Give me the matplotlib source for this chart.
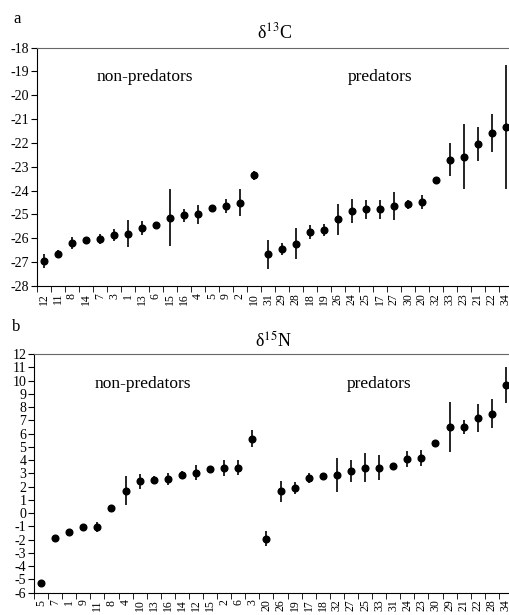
import matplotlib.pyplot as plt
import numpy as np

plt.rcParams['font.family'] = ['Liberation Serif', 'DejaVu Serif']
plt.rcParams['mathtext.fontset'] = 'stix'
plt.rcParams['axes.unicode_minus'] = False

# delta 13C
c_labels = ['12', '11', '8', '14', '7', '3', '1', '13', '6', '15', '16', '4', '5', '9', '2', '10',
            '31', '29', '28', '18', '19', '26', '24', '25', '17', '27', '30', '20', '32', '33', '23', '21', '22', '34']
c_mean = [-26.96, -26.64, -26.19, -26.08, -26.04, -25.87, -25.80, -25.56, -25.45, -25.14, -25.03, -25.00,
          -24.71, -24.65, -24.51, -23.36,
          -26.67, -26.44, -26.23, -25.73, -25.65, -25.20, -24.87, -24.78, -24.78, -24.64, -24.58, -24.48,
          -23.57, -22.70, -22.58, -22.05, -21.58, -21.32]
c_err = [0.30, 0.15, 0.25, 0.10, 0.20, 0.25, 0.55, 0.30, 0.10, 1.20, 0.28, 0.38, 0.05, 0.30, 0.57, 0.18,
         0.60, 0.25, 0.65, 0.30, 0.25, 0.65, 0.50, 0.40, 0.40, 0.60, 0.20, 0.30,
         0.15, 0.70, 1.37, 0.70, 0.80, 2.60]

# delta 15N
n_labels = ['5', '7', '1', '9', '11', '8', '4', '10', '13', '16', '14', '12', '15', '2', '6', '3',
            '20', '26', '19', '17', '18', '32', '27', '25', '33', '31', '24', '23', '30', '29', '21', '22', '28', '34']
n_mean = [-5.27, -1.87, -1.41, -1.06, -1.06, 0.38, 1.70, 2.40, 2.53, 2.60, 2.90, 3.05, 3.35, 3.43, 3.43, 5.62,
          -1.93, 1.64, 1.87, 2.65, 2.82, 2.88, 3.18, 3.43, 3.43, 3.55, 4.08, 4.16,
          5.29, 6.50, 6.50, 7.15, 7.50, 9.69]
n_err = [0.20, 0.15, 0.12, 0.05, 0.40, 0.25, 1.10, 0.57, 0.29, 0.45, 0.30, 0.55, 0.10, 0.60, 0.55, 0.63,
         0.57, 0.78, 0.45, 0.40, 0.10, 1.28, 0.85, 1.10, 0.95, 0.10, 0.60, 0.60,
         0.20, 1.90, 0.50, 1.05, 1.10, 1.36]

fig = plt.figure(figsize=(5.09, 6.15), dpi=100)


def panel(rect, labels, mean, err, ylim, title, pad, txt_y):
    ax = fig.add_axes(rect)
    x = np.arange(len(labels))
    ax.errorbar(x, mean, yerr=err, fmt='o', color='black', ms=4.8, elinewidth=1.2, capsize=0)
    ax.set_xlim(-0.5, len(labels) - 0.5)
    ax.set_ylim(ylim)
    ax.set_yticks(np.arange(ylim[0], ylim[1] + 1, 1))
    ax.set_xticks(x)
    ax.set_xticklabels(labels, rotation=90, fontsize=8.5)
    ax.set_xticks(np.arange(len(labels) + 1) - 0.5, minor=True)
    ax.tick_params(axis='x', which='major', length=0, pad=5)
    ax.tick_params(axis='x', which='minor', length=4, direction='out')
    ax.tick_params(axis='y', length=4, direction='out', labelsize=10, pad=1.5)
    ax.spines['right'].set_visible(False)
    ax.spines['top'].set_color('#666666')
    ax.set_title(title, fontsize=13, pad=pad)
    ax.text(7.2, txt_y, 'non-predators', fontsize=12.5, ha='center', va='center')
    ax.text(24.0, txt_y, 'predators', fontsize=12.5, ha='center', va='center')
    return ax


panel([0.0727, 0.535, 0.935, 0.3875], c_labels, c_mean, c_err, (-28, -18),
      'δ$^{13}$C', 7, -19.25)
panel([0.0668, 0.0363, 0.941, 0.388], n_labels, n_mean, n_err, (-6, 12),
      'δ$^{15}$N', 5, 9.75)

fig.text(0.026, 0.962, 'a', fontsize=12)
fig.text(0.024, 0.462, 'b', fontsize=12)

plt.savefig('out.png', dpi=100)
